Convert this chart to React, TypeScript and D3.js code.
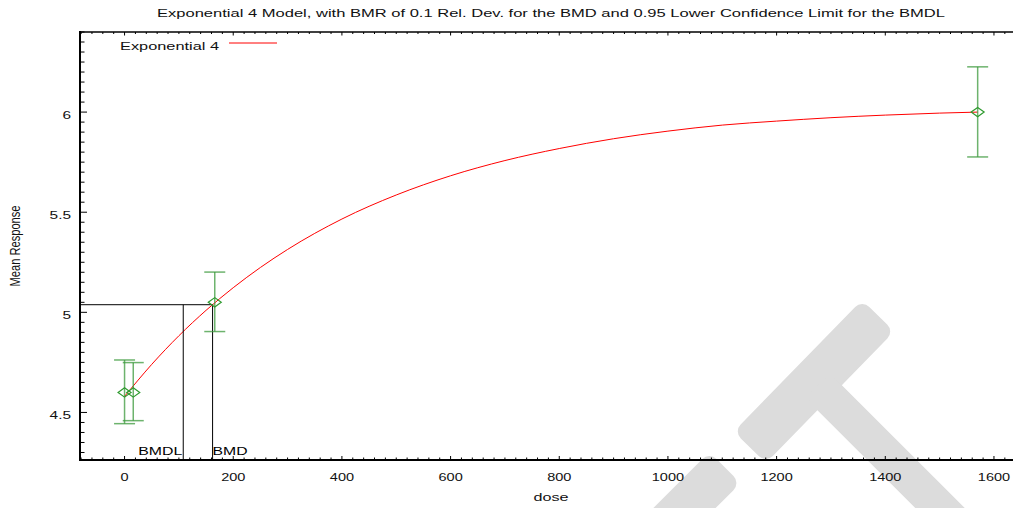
import React, { useEffect, useRef } from 'react';
import * as d3 from 'd3';

// observed dose groups
const doses = [0, 16, 166, 1570];
const means = [4.6, 4.6, 5.05, 6.0];
const lowerCI = [4.444, 4.459, 4.904, 5.776];
const upperCI = [4.762, 4.749, 5.201, 6.226];

// fitted exponential 4 curve
const curveDoses = [0, 50, 100, 150, 200, 250, 300, 400, 500, 600, 700, 800, 900, 1000, 1100, 1200, 1300, 1400, 1500, 1570];
const curveMeans = [4.58, 4.74, 4.883, 5.01, 5.123, 5.224, 5.314, 5.466, 5.586, 5.682, 5.758, 5.818, 5.867, 5.905, 5.935, 5.955, 5.972, 5.985, 5.995, 6.0];

const bmd = 162;
const bmdl = 108;
const bmdResponse = 5.038;

const xTickLabels = [0, 200, 400, 600, 800, 1000, 1200, 1400, 1600];
const yTickLabels = [4.5, 5, 5.5, 6];

const titleText = 'Exponential 4 Model, with BMR of 0.1 Rel. Dev. for the BMD and 0.95 Lower Confidence Limit for the BMDL';
const legendLabel = 'Exponential 4';
const xLabel = 'dose';
const yLabel = 'Mean Response';

const width = 1013;
const height = 508;
const left = 80;
const top = 32;
const bottom = 460;
const font = '"Liberation Sans", Arial, Helvetica, sans-serif';

export default function App() {
  const ref = useRef<SVGSVGElement>(null);

  useEffect(() => {
    const svg = d3.select(ref.current);
    svg.selectAll('*').remove();

    const x = d3.scaleLinear().domain([-82, 1640]).range([left, 1015.7]);
    const y = d3.scaleLinear().domain([4.2625, 6.4]).range([bottom, top]);

    svg.append('rect').attr('width', width).attr('height', height).attr('fill', '#fff');

    // watermark
    const wm = svg.append('g').attr('fill', '#dcdcdc');
    wm.append('rect').attr('transform', 'translate(814,381.5) rotate(-45.7)')
      .attr('x', -92).attr('y', -22.5).attr('width', 184).attr('height', 45).attr('rx', 10);
    wm.append('rect').attr('transform', 'translate(832,400) rotate(45)')
      .attr('x', -20).attr('y', -17.5).attr('width', 260).attr('height', 35).attr('rx', 8);
    wm.append('rect').attr('transform', 'translate(725,467.5) rotate(135)')
      .attr('x', 0).attr('y', -22).attr('width', 160).attr('height', 44).attr('rx', 10);

    svg.append('defs').append('clipPath').attr('id', 'plot-clip')
      .append('rect').attr('x', left).attr('y', top).attr('width', width - left).attr('height', bottom - top);

    const plot = svg.append('g').attr('clip-path', 'url(#plot-clip)');

    // fitted curve
    const line = d3.line<number>()
      .x((d, i) => x(curveDoses[i]))
      .y(d => y(d))
      .curve(d3.curveMonotoneX);
    plot.append('path')
      .datum(curveMeans)
      .attr('d', line)
      .attr('fill', 'none')
      .attr('stroke', '#ff0000')
      .attr('stroke-width', 1);

    // BMD / BMDL markers
    plot.append('line')
      .attr('x1', left).attr('x2', x(bmd))
      .attr('y1', y(bmdResponse)).attr('y2', y(bmdResponse))
      .attr('stroke', '#000').attr('stroke-width', 1);
    [bmdl, bmd].forEach(v => {
      plot.append('line')
        .attr('x1', x(v)).attr('x2', x(v))
        .attr('y1', y(bmdResponse)).attr('y2', bottom)
        .attr('stroke', '#000').attr('stroke-width', 1);
    });
    svg.append('text').text('BMDL')
      .attr('x', x(bmdl) - 1).attr('y', bottom - 5)
      .attr('text-anchor', 'end')
      .attr('textLength', 44).attr('lengthAdjust', 'spacingAndGlyphs')
      .style('font-family', font).style('font-size', '11.5px');
    svg.append('text').text('BMD')
      .attr('x', x(bmd)).attr('y', bottom - 5)
      .attr('textLength', 35).attr('lengthAdjust', 'spacingAndGlyphs')
      .style('font-family', font).style('font-size', '11.5px');

    // error bars
    const bars = plot.selectAll('.ebar').data(doses).enter().append('g')
      .attr('class', 'ebar')
      .attr('stroke', '#3c9a3c').attr('stroke-opacity', 0.75).attr('stroke-width', 1.5);
    bars.append('line')
      .attr('x1', d => x(d)).attr('x2', d => x(d))
      .attr('y1', (d, i) => y(lowerCI[i])).attr('y2', (d, i) => y(upperCI[i]));
    bars.append('line')
      .attr('x1', d => x(d) - 10.5).attr('x2', d => x(d) + 10.5)
      .attr('y1', (d, i) => y(upperCI[i])).attr('y2', (d, i) => y(upperCI[i]));
    bars.append('line')
      .attr('x1', d => x(d) - 10.5).attr('x2', d => x(d) + 10.5)
      .attr('y1', (d, i) => y(lowerCI[i])).attr('y2', (d, i) => y(lowerCI[i]));

    plot.selectAll('.mean').data(means).enter().append('path')
      .attr('class', 'mean')
      .attr('d', (d, i) => {
        const cx = x(doses[i]);
        const cy = y(d);
        return `M${cx - 6.5},${cy}L${cx},${cy - 4.7}L${cx + 6.5},${cy}L${cx},${cy + 4.7}Z`;
      })
      .attr('fill', 'none')
      .attr('stroke', '#2e9a2e')
      .attr('stroke-width', 1.2);

    // axes
    const xMinor = x.ticks(86);
    const yMinor = y.ticks(43);

    const axes = svg.append('g').attr('stroke', '#000');
    axes.selectAll('.xb').data(xMinor).enter().append('line')
      .attr('x1', d => x(d)).attr('x2', d => x(d))
      .attr('y1', bottom).attr('y2', d => bottom - (xTickLabels.includes(d) ? 4 : 2.5));
    axes.selectAll('.xt').data(xMinor).enter().append('line')
      .attr('x1', d => x(d)).attr('x2', d => x(d))
      .attr('y1', top).attr('y2', d => top + (xTickLabels.includes(d) ? 3.5 : 2));
    axes.selectAll('.yl').data(yMinor).enter().append('line')
      .attr('x1', left).attr('x2', d => left + (yTickLabels.some(t => Math.abs(t - d) < 1e-6) ? 7 : 4.5))
      .attr('y1', d => y(d)).attr('y2', d => y(d));
    axes.append('line').attr('x1', left).attr('x2', width).attr('y1', top).attr('y2', top).attr('stroke-width', 1.5);
    axes.append('line').attr('x1', left).attr('x2', width).attr('y1', bottom).attr('y2', bottom).attr('stroke-width', 2);
    axes.append('line').attr('x1', left).attr('x2', left).attr('y1', top - 1).attr('y2', bottom + 1).attr('stroke-width', 2);

    svg.selectAll('.xlab').data(xTickLabels).enter().append('text')
      .attr('transform', d => `translate(${x(d)},${bottom + 20.7}) scale(1.32,1)`)
      .attr('text-anchor', 'middle')
      .style('font-family', font).style('font-size', '11px').attr('fill', '#111')
      .text(d => d);
    svg.selectAll('.ylab').data(yTickLabels).enter().append('text')
      .attr('transform', d => `translate(71,${y(d) + 6.5}) scale(1.4,1)`)
      .attr('text-anchor', 'end')
      .style('font-family', font).style('font-size', '11px').attr('fill', '#111')
      .text(d => d);

    // titles
    svg.append('text').text(titleText)
      .attr('x', 551).attr('y', 17.3)
      .attr('text-anchor', 'middle')
      .attr('textLength', 788).attr('lengthAdjust', 'spacingAndGlyphs')
      .style('font-family', font).style('font-size', '11.2px').attr('fill', '#111');
    svg.append('text').text(xLabel)
      .attr('x', 551).attr('y', 501)
      .attr('text-anchor', 'middle')
      .attr('textLength', 35).attr('lengthAdjust', 'spacingAndGlyphs')
      .style('font-family', font).style('font-size', '11.5px').attr('fill', '#111');
    svg.append('text').text(yLabel)
      .attr('transform', 'translate(20,246) scale(1.25,1) rotate(-90)')
      .attr('text-anchor', 'middle')
      .attr('textLength', 81).attr('lengthAdjust', 'spacingAndGlyphs')
      .style('font-family', font).style('font-size', '11px').attr('fill', '#111');

    // legend
    svg.append('text').text(legendLabel)
      .attr('x', 120).attr('y', 49.5)
      .attr('textLength', 99).attr('lengthAdjust', 'spacingAndGlyphs')
      .style('font-family', font).style('font-size', '11.5px').attr('fill', '#111');
    svg.append('line')
      .attr('x1', 229).attr('x2', 277).attr('y1', 43).attr('y2', 43)
      .attr('stroke', '#ff0000').attr('stroke-width', 1);
  }, []);

  return (
    <svg
      ref={ref}
      width={width}
      height={height}
      style={{ position: 'absolute', left: 0, top: 0, display: 'block' }}
    />
  );
}
